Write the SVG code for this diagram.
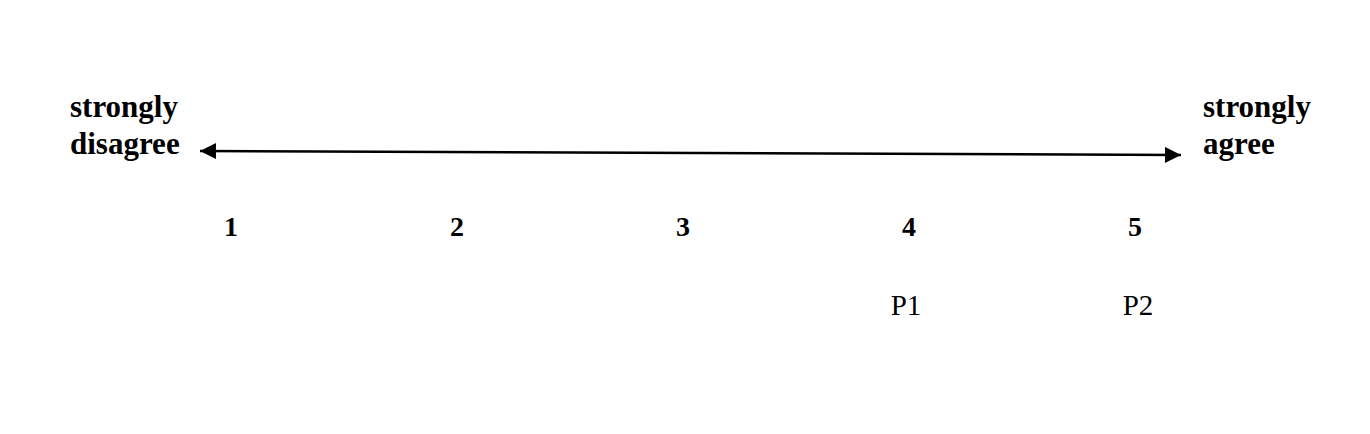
<svg xmlns="http://www.w3.org/2000/svg" width="1370" height="434" viewBox="0 0 1370 434">
<style>
.b{font-family:"Liberation Serif","Times New Roman",serif;font-weight:bold;font-size:31px;fill:#000}
.n{font-family:"Liberation Serif","Times New Roman",serif;font-weight:bold;font-size:28px;fill:#000;text-anchor:middle}
.p{font-family:"Liberation Serif","Times New Roman",serif;font-size:29px;fill:#000;text-anchor:middle}
</style>
<defs>
<marker id="ah" viewBox="0 0 10 10" refX="10" refY="5" markerWidth="22" markerHeight="16" markerUnits="userSpaceOnUse" orient="auto-start-reverse">
<path d="M0,0 L10,5 L0,10 z" fill="#000"/>
</marker>
</defs>
<rect width="1370" height="434" fill="#fff"/>
<g id="connectors">
<line x1="200" y1="151" x2="1181" y2="155" stroke="#000" stroke-width="2.5" marker-start="url(#ah)" marker-end="url(#ah)"/>
</g>
<g id="label-disagree"><text class="b" x="70" y="117">strongly</text><text class="b" x="70" y="154">disagree</text></g>
<g id="label-agree"><text class="b" x="1203" y="117">strongly</text><text class="b" x="1203" y="154">agree</text></g>
<g id="n1"><text class="n" x="231" y="236">1</text></g>
<g id="n2"><text class="n" x="457" y="236">2</text></g>
<g id="n3"><text class="n" x="683" y="236">3</text></g>
<g id="n4"><text class="n" x="909" y="236">4</text></g>
<g id="n5"><text class="n" x="1135" y="236">5</text></g>
<g id="p1"><text class="p" x="906" y="315">P1</text></g>
<g id="p2"><text class="p" x="1138" y="315">P2</text></g>
</svg>
